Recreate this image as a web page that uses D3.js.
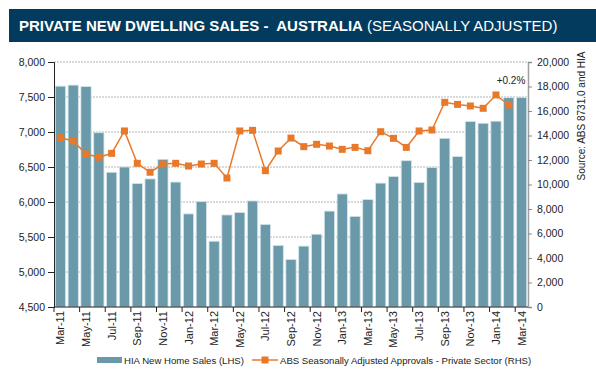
<!DOCTYPE html>
<html>
<head>
<meta charset="utf-8">
<script src="https://cdn.jsdelivr.net/npm/d3@7"></script>
<style>
  body { margin: 0; background: #fff; }
  svg { font-family: "Liberation Sans", Arial, sans-serif; display: block; }
</style>
</head>
<body>
<div class="visHolder"></div>
<script>
const w = 596;
const h = 372;

const months = ['Mar-11','Apr-11','May-11','Jun-11','Jul-11','Aug-11','Sep-11','Oct-11','Nov-11','Dec-11',
  'Jan-12','Feb-12','Mar-12','Apr-12','May-12','Jun-12','Jul-12','Aug-12','Sep-12','Oct-12','Nov-12','Dec-12',
  'Jan-13','Feb-13','Mar-13','Apr-13','May-13','Jun-13','Jul-13','Aug-13','Sep-13','Oct-13','Nov-13','Dec-13',
  'Jan-14','Feb-14','Mar-14'];

// HIA new home sales (LHS)
const hiaSales = [7655, 7670, 7650, 6990, 6425, 6500, 6265, 6330, 6610, 6285,
  5830, 6005, 5440, 5815, 5850, 6015, 5680, 5380, 5180, 5370, 5540, 5870,
  6115, 5795, 6035, 6270, 6365, 6590, 6280, 6495, 6910, 6650, 7150, 7125,
  7155, 7490, 7495];

// ABS seasonally adjusted approvals, private sector (RHS)
const absApprovals = [13820, 13550, 12490, 12220, 12545, 14370, 11730, 11000, 11670, 11730,
  11510, 11670, 11730, 10530, 14370, 14420, 11130, 12735, 13790, 13090, 13280, 13140,
  12870, 13030, 12760, 14310, 13770, 13030, 14370, 14450, 16710, 16540, 16410, 16220,
  17310, 16490, null];

const leftTicks = [4500, 5000, 5500, 6000, 6500, 7000, 7500, 8000];
const rightTicks = [0, 2000, 4000, 6000, 8000, 10000, 12000, 14000, 16000, 18000, 20000];

const barColor = '#6a9aaa';
const lineColor = '#e8792b';

const svg = d3.select('.visHolder').append('svg')
  .attr('width', w)
  .attr('height', h);

// title bar
svg.append('rect')
  .attr('x', 9).attr('y', 9)
  .attr('width', w - 9).attr('height', 33)
  .attr('fill', '#023b5d');

const title = svg.append('text')
  .attr('x', 19).attr('y', 31)
  .attr('fill', '#fff')
  .style('font-size', '15px');
title.append('tspan').attr('font-weight', 'bold').text('PRIVATE NEW DWELLING SALES -\u00a0 AUSTRALIA');
title.append('tspan').text(' (SEASONALLY ADJUSTED)');

const plotL = 54, plotR = 528, plotT = 62, plotB = 307;

const xScale = d3.scaleBand()
  .domain(months)
  .range([plotL, plotR])
  .paddingInner(0.2)
  .paddingOuter(0.1);

const yLeft = d3.scaleLinear().domain([4500, 8000]).range([plotB, plotT]);
const yRight = d3.scaleLinear().domain([0, 20000]).range([plotB, plotT]);

// gridlines
svg.append('g')
  .selectAll('line')
  .data(leftTicks.slice(1))
  .enter()
  .append('line')
  .attr('x1', plotL).attr('x2', plotR)
  .attr('y1', d => yLeft(d)).attr('y2', d => yLeft(d))
  .attr('stroke', '#b4b4b4')
  .attr('stroke-width', 1)
  .attr('stroke-dasharray', '2,1');

// bars
svg.append('g')
  .selectAll('rect')
  .data(hiaSales)
  .enter()
  .append('rect')
  .attr('x', (d, i) => xScale(months[i]))
  .attr('y', d => yLeft(d))
  .attr('width', xScale.bandwidth())
  .attr('height', d => plotB - yLeft(d))
  .attr('fill', barColor)
  .attr('stroke', '#d6e5ea')
  .attr('stroke-width', 0.8);

// left axis
const yAxisL = d3.axisLeft(yLeft).tickValues(leftTicks).tickSize(6).tickFormat(d3.format(','));
const gL = svg.append('g')
  .attr('transform', 'translate(' + plotL + ',0)')
  .call(yAxisL);
gL.select('.domain').attr('stroke', '#222');
gL.selectAll('.tick line').attr('stroke', '#222');
gL.selectAll('text').attr('fill', '#222').style('font-size', '10.5px').attr('x', -9);

// right axis
const yAxisR = d3.axisRight(yRight).tickValues(rightTicks).tickSize(4).tickFormat(d3.format(','));
const gR = svg.append('g')
  .attr('transform', 'translate(' + plotR + ',0)')
  .call(yAxisR);
gR.select('.domain').attr('stroke', '#a0a0a0').attr('stroke-width', 1.5);
gR.selectAll('.tick line').attr('stroke', '#888');
gR.selectAll('text').attr('fill', '#222').style('font-size', '10.5px').attr('x', 9);

// x axis
const step = xScale.step();
const xAxis = svg.append('g');
xAxis.append('line')
  .attr('x1', plotL).attr('x2', plotR)
  .attr('y1', plotB).attr('y2', plotB)
  .attr('stroke', '#222');
const labelled = months.filter((m, i) => i % 2 === 0);
xAxis.selectAll('.xtick')
  .data(labelled)
  .enter()
  .append('line')
  .attr('x1', d => xScale(d) - step * 0.1)
  .attr('x2', d => xScale(d) - step * 0.1)
  .attr('y1', plotB).attr('y2', plotB + 5)
  .attr('stroke', '#222');
xAxis.selectAll('.xlabel')
  .data(labelled)
  .enter()
  .append('text')
  .attr('transform', d => 'translate(' + (xScale(d) + xScale.bandwidth() / 2 + 4) + ',' + (plotB + 4) + ') rotate(-90)')
  .attr('text-anchor', 'end')
  .attr('fill', '#222')
  .style('font-size', '11px')
  .text(d => d);

// ABS line
const pts = absApprovals.map((v, i) => ({ m: months[i], v: v })).filter(p => p.v !== null);
const line = d3.line()
  .x(p => xScale(p.m) + xScale.bandwidth() / 2)
  .y(p => yRight(p.v));
svg.append('path')
  .datum(pts)
  .attr('d', line)
  .attr('fill', 'none')
  .attr('stroke', lineColor)
  .attr('stroke-width', 1.5);
svg.append('g')
  .selectAll('rect')
  .data(pts)
  .enter()
  .append('rect')
  .attr('x', p => xScale(p.m) + xScale.bandwidth() / 2 - 3.5)
  .attr('y', p => yRight(p.v) - 3.5)
  .attr('width', 7).attr('height', 7)
  .attr('fill', lineColor);

// annotation
svg.append('text')
  .attr('x', 511).attr('y', 84)
  .attr('text-anchor', 'middle')
  .attr('fill', '#222')
  .style('font-size', '10px')
  .text('+0.2%');

// source
svg.append('text')
  .attr('transform', 'translate(585,116) rotate(-90)')
  .attr('text-anchor', 'middle')
  .attr('fill', '#222')
  .style('font-size', '10px')
  .text('Source: ABS 8731.0 and HIA');

// legend
const legend = svg.append('g');
legend.append('rect')
  .attr('x', 97).attr('y', 357)
  .attr('width', 25).attr('height', 6)
  .attr('fill', barColor);
legend.append('text')
  .attr('x', 124).attr('y', 364)
  .attr('fill', '#222')
  .style('font-size', '9.6px')
  .text('HIA New Home Sales (LHS)');
legend.append('line')
  .attr('x1', 252).attr('x2', 278)
  .attr('y1', 360).attr('y2', 360)
  .attr('stroke', lineColor)
  .attr('stroke-width', 1.5);
legend.append('rect')
  .attr('x', 261.5).attr('y', 356.5)
  .attr('width', 7).attr('height', 7)
  .attr('fill', lineColor);
legend.append('text')
  .attr('x', 280).attr('y', 364)
  .attr('fill', '#222')
  .style('font-size', '9.6px')
  .text('ABS Seasonally Adjusted Approvals - Private Sector (RHS)');
</script>
</body>
</html>
